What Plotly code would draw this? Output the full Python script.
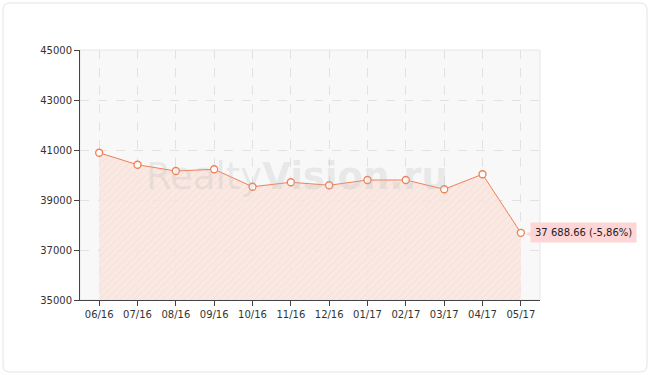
import plotly.graph_objects as go

months = ["06/16", "07/16", "08/16", "09/16", "10/16", "11/16", "12/16",
          "01/17", "02/17", "03/17", "04/17", "05/17"]
prices = [40890, 40410, 40160, 40230, 39530, 39710, 39590,
          39800, 39800, 39430, 40030, 37688.66]
y_ticks = [35000, 37000, 39000, 41000, 43000, 45000]
last_label = "37 688.66 (-5,86%)"

L, R, T, B = 80, 110, 50, 75
W, H = 650, 375
pw, ph = W - L - R, H - T - B

def px(x):
    return (x - L) / pw

def py(y):
    return (H - B - y) / ph

fig = go.Figure()
fig.add_trace(go.Scatter(
    x=list(range(len(months))), y=prices, mode="lines+markers",
    line=dict(color="#f07f55", width=1),
    marker=dict(size=7, color="white", line=dict(color="#f07f55", width=1.3)),
    fill="tozeroy", fillcolor="rgba(251,226,218,0.6)",
    fillpattern=dict(shape="/", bgcolor="rgba(251,230,223,0.85)",
                     fgcolor="rgba(240,205,195,0.7)", size=5, solidity=0.2),
    hoverinfo="skip", showlegend=False,
))

font = "DejaVu Sans, Verdana, sans-serif"
fig.update_layout(
    width=W, height=H,
    margin=dict(l=L, r=R, t=T, b=B),
    paper_bgcolor="white", plot_bgcolor="#f8f8f8",
    font=dict(family=font, size=10, color="#333"),
    xaxis=dict(
        range=[-0.5, len(months) - 0.5], tickmode="array",
        tickvals=list(range(len(months))), ticktext=months,
        showline=True, linecolor="#444", linewidth=1,
        ticks="outside", ticklen=5, tickcolor="#444",
        showgrid=True, gridcolor="#e2e2e2", griddash="dash", gridwidth=1,
        zeroline=False, fixedrange=True,
    ),
    yaxis=dict(
        range=[y_ticks[0], y_ticks[-1]], tickmode="array", tickvals=y_ticks,
        ticktext=[str(v) for v in y_ticks],
        showline=True, linecolor="#444", linewidth=1,
        ticks="outside", ticklen=5, tickcolor="#444",
        showgrid=True, gridcolor="#e2e2e2", griddash="dash", gridwidth=1,
        zeroline=False, fixedrange=True,
    ),
)

# plot area light frame (top/right)
fig.add_shape(type="rect", xref="paper", yref="paper", x0=0, y0=0, x1=1, y1=1,
              line=dict(color="#e6e6e6", width=1), layer="below")

# outer rounded frame
x0, x1 = px(3), px(647)
y0, y1 = py(372), py(3)
rx, ry = 7 / pw, 7 / ph
path = (f"M {x0+rx},{y1} L {x1-rx},{y1} Q {x1},{y1} {x1},{y1-ry} "
        f"L {x1},{y0+ry} Q {x1},{y0} {x1-rx},{y0} L {x0+rx},{y0} "
        f"Q {x0},{y0} {x0},{y0+ry} L {x0},{y1-ry} Q {x0},{y1} {x0+rx},{y1} Z")
fig.add_shape(type="path", xref="paper", yref="paper", path=path,
              line=dict(color="#e4e4e4", width=1), layer="below")

# watermark
fig.add_annotation(
    xref="paper", yref="paper", x=px(297), y=py(176),
    text="Realty<b>Vision.ru</b>", showarrow=False,
    font=dict(family="DejaVu Sans, Verdana, sans-serif", size=37,
              color="rgba(185,185,185,0.26)"),
)

# last value label with pointer
fig.add_annotation(
    x=len(months) - 1, y=prices[-1], xref="x", yref="y",
    text=last_label, showarrow=False, xanchor="left", yanchor="middle",
    xshift=9, bgcolor="#ffd5d5", borderpad=4,
    font=dict(family=font, size=10, color="#222"),
)
fig.add_annotation(
    x=len(months) - 1, y=prices[-1], xref="x", yref="y",
    text="◀", showarrow=False, xanchor="left", yanchor="middle",
    xshift=3, font=dict(family="DejaVu Sans", size=12, color="#ffd5d5"),
)

fig.write_html("out.html",
               config={"displayModeBar": False, "staticPlot": True},
               post_script="document.body.style.margin='0';"
                           "document.body.style.overflow='hidden';")
